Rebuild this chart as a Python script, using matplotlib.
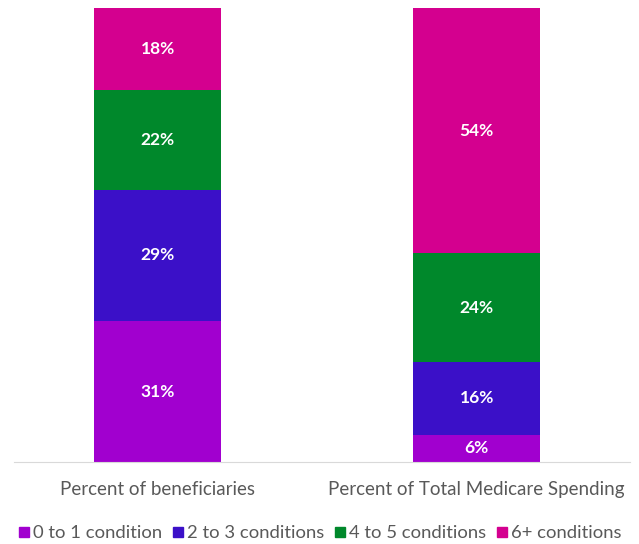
import matplotlib
matplotlib.use("Agg")
import matplotlib.pyplot as plt
from matplotlib.lines import Line2D

categories = ["Percent of beneficiaries", "Percent of Total Medicare Spending"]
series_names = ["0 to 1 condition", "2 to 3 conditions", "4 to 5 conditions", "6+ conditions"]
values = {
    "0 to 1 condition": [31, 6],
    "2 to 3 conditions": [29, 16],
    "4 to 5 conditions": [22, 24],
    "6+ conditions": [18, 54],
}
colors = ["#A100CF", "#3B10C8", "#00882B", "#D4008F"]

plt.rcParams['font.family'] = ['Lato', 'DejaVu Sans']

fig = plt.figure(figsize=(6.39, 5.44), dpi=100)
ax = fig.add_axes([0.0, 0.1507, 1.0, 0.8346])

x = list(range(len(categories)))
bottoms = [0] * len(categories)
for name, col in zip(series_names, colors):
    vals = values[name]
    ax.bar(x, vals, bottom=bottoms, width=0.398, color=col, edgecolor='none', zorder=2)
    for xi, v, b in zip(x, vals, bottoms):
        ax.text(xi, b + v / 2, f"{v}%", ha='center', va='center', color='white',
                fontsize=12.5, fontweight='bold', zorder=3)
    bottoms = [b + v for b, v in zip(bottoms, vals)]

ax.set_xlim(-0.494, 1.509)
ax.set_ylim(0, 100)
ax.set_xticks(x)
ax.set_xticklabels(categories, fontsize=13.5, color='#595959')
ax.tick_params(axis='x', length=0, pad=14)
ax.set_yticks([])
for s in ['top', 'right', 'left']:
    ax.spines[s].set_visible(False)
ax.spines['bottom'].set_color('#D9D9D9')
ax.spines['bottom'].set_bounds(-0.45, 1.48)

handles = [Line2D([0], [0], marker='s', linestyle='none', markersize=7,
                  markerfacecolor=c, markeredgecolor=c) for c in colors]
fig.legend(handles, series_names, loc='center', bbox_to_anchor=(0.5, 0.02), ncol=4,
           frameon=False, fontsize=13.3, labelcolor='#595959', handletextpad=0.15,
           columnspacing=0.5, handlelength=0.7, borderpad=0, borderaxespad=0)

fig.savefig("out.png", dpi=100)
